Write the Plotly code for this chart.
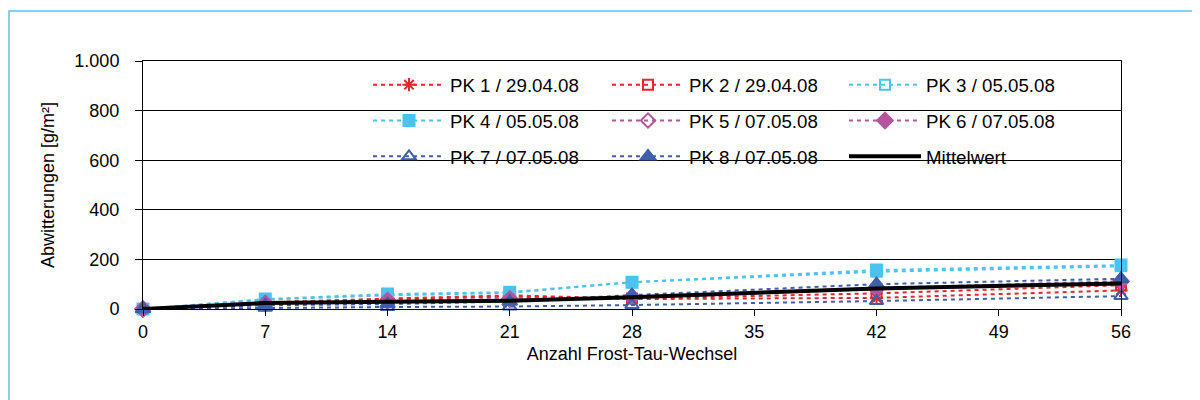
import plotly.graph_objects as go

x_vals = [0, 7, 14, 21, 28, 42, 56]
x_ticks = [0, 7, 14, 21, 28, 35, 42, 49, 56]
pk1 = [0, 28, 40, 50, 40, 45, 75]
pk2 = [0, 25, 42, 55, 42, 63, 96]
pk3 = [0, 38, 55, 65, 108, 150, 172]
pk4 = [0, 40, 60, 68, 108, 157, 177]
pk5 = [0, 20, 35, 38, 45, 80, 110]
pk6 = [0, 22, 33, 40, 48, 85, 112]
pk7 = [0, 5, 8, 10, 16, 32, 52]
pk8 = [0, 15, 20, 30, 56, 100, 122]
mittel = [0, 24, 29, 33, 47, 83, 103]

names = ["PK 1 / 29.04.08", "PK 2 / 29.04.08", "PK 3 / 05.05.08",
         "PK 4 / 05.05.08", "PK 5 / 07.05.08", "PK 6 / 07.05.08",
         "PK 7 / 07.05.08", "PK 8 / 07.05.08", "Mittelwert"]
y_ticks = [0, 200, 400, 600, 800, 1000]
y_tick_text = ["0", "200", "400", "600", "800", "1.000"]

RED = "#E3262F"
CYAN = "#4CC3EE"
PURPLE = "#B4559E"
BLUE = "#3F5FAA"

series = [pk1, pk2, pk3, pk4, pk5, pk6, pk7, pk8]
styles = [
    (RED, "asterisk-open", 11),
    (RED, "square-open", 10),
    (CYAN, "square-open", 10),
    (CYAN, "square", 11),
    (PURPLE, "diamond-open", 11),
    (PURPLE, "diamond", 12),
    (BLUE, "triangle-up-open", 12),
    (BLUE, "triangle-up", 13),
]
legend_of = ["legend", "legend2", "legend3",
             "legend", "legend2", "legend3",
             "legend", "legend2", "legend3"]

fig = go.Figure()
for i, (vals, (col, sym, sz)) in enumerate(zip(series, styles)):
    fig.add_trace(go.Scatter(
        x=x_vals, y=vals, name=names[i], mode="lines+markers",
        line=dict(color=col, width=2, dash="4px,4px"),
        marker=dict(symbol=sym, size=sz, color=col,
                    line=dict(color=col, width=2)),
        cliponaxis=False, legend=legend_of[i], legendgroup=names[i],
    ))
fig.add_trace(go.Scatter(
    x=x_vals, y=mittel, name=names[8], mode="lines",
    line=dict(color="black", width=4),
    cliponaxis=False, legend=legend_of[8], legendgroup=names[8],
))

OFF = 8  # page body margin offset
PL, PR, PT, PB = 143, 1121, 61, 309
W, H = 1200, 400
L = PL - OFF
T = PT - OFF
pw, ph = PR - PL, PB - PT
R = W - L - pw
B = H - T - ph


def px2x(p):
    return (p - PL) / pw


def px2y(p):
    return 1 - (p - PT) / ph


leg_common = dict(
    orientation="v", xanchor="left", yanchor="top",
    bgcolor="rgba(0,0,0,0)", borderwidth=0,
    font=dict(family="Liberation Sans, Arial, sans-serif", size=18.7, color="black"),
    itemwidth=72, tracegroupgap=8.5,
)

fig.update_layout(
    width=W, height=H,
    margin=dict(l=L, r=R, t=T, b=B),
    paper_bgcolor="white", plot_bgcolor="white",
    font=dict(family="Liberation Sans, Arial, sans-serif", size=18, color="black"),
    showlegend=True,
    legend=dict(x=px2x(368), y=px2y(66), **leg_common),
    legend2=dict(x=px2x(607), y=px2y(66), **leg_common),
    legend3=dict(x=px2x(844), y=px2y(66), **leg_common),
    xaxis=dict(
        range=[0, 56], tickvals=x_ticks,
        showline=True, linecolor="black", linewidth=1, mirror=True,
        ticks="outside", ticklen=6, tickcolor="black",
        showgrid=False, zeroline=False,
        title=dict(text="Anzahl Frost-Tau-Wechsel", standoff=6,
                   font=dict(size=18)),
        tickfont=dict(size=18),
    ),
    yaxis=dict(
        range=[0, 1000], tickvals=y_ticks, ticktext=y_tick_text,
        showline=True, linecolor="black", linewidth=1, mirror=True,
        ticks="outside", ticklen=7, tickcolor="black",
        showgrid=True, gridcolor="black", gridwidth=1, zeroline=False,
        ticklabelstandoff=12,
        title=dict(text="Abwitterungen [g/m²]", standoff=15,
                   font=dict(size=18)),
        tickfont=dict(size=18),
    ),
    shapes=[
        dict(type="rect", xref="paper", yref="paper",
             x0=px2x(357), x1=px2x(1071), y0=px2y(178), y1=px2y(64),
             fillcolor="white", line=dict(width=0), layer="between"),
        dict(type="rect", xref="paper", yref="paper",
             x0=px2x(OFF + 1), x1=px2x(1215), y0=px2y(415), y1=px2y(11),
             fillcolor="rgba(0,0,0,0)", line=dict(color="#5BC4EC", width=1.5),
             layer="above"),
    ],
)

fig.write_html("out.html")
